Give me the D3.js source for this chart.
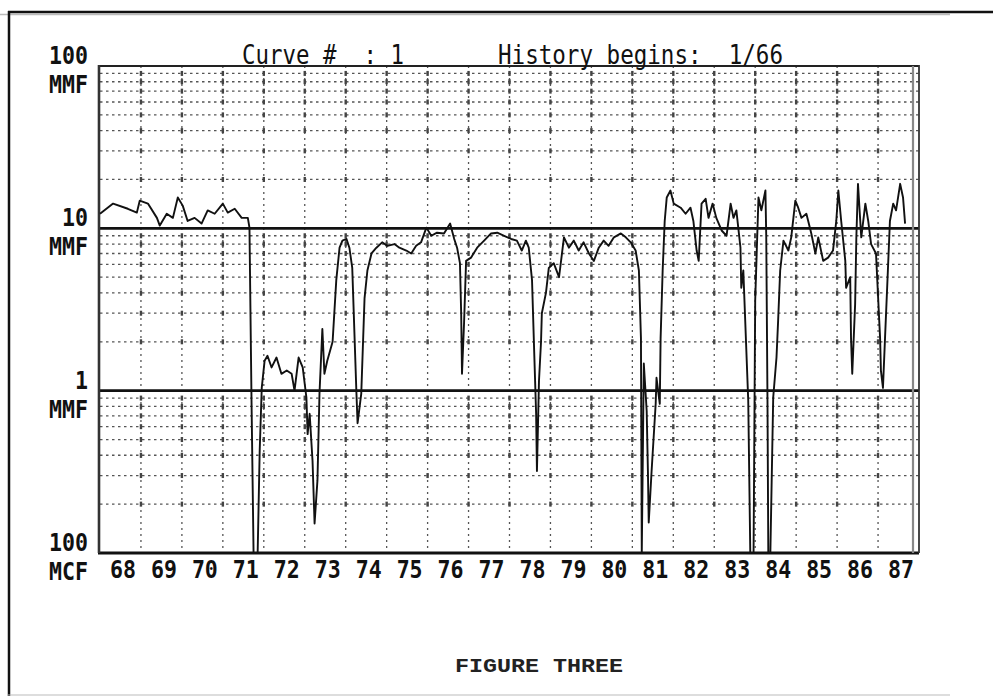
<!DOCTYPE html>
<html>
<head>
<meta charset="utf-8">
<script src="https://cdn.jsdelivr.net/npm/d3@7"></script>
<style>
  html, body { margin: 0; padding: 0; background: #fff; }
  svg { display: block; }
  text { white-space: pre; }
</style>
</head>
<body>
<div id="container"></div>
<script>
// tick labels and grid
var years = d3.range(68, 88);                 // 68 .. 87
var gridMult = [2, 3, 4, 5, 6, 7, 8, 9];
var decades = [0.1, 1, 10];
var heavyLines = [1, 10];
var yLabels = [
  { v: 100, num: "100", unit: "MMF" },
  { v: 10,  num: "10",  unit: "MMF" },
  { v: 1,   num: "1",   unit: "MMF" },
  { v: 0.1, num: "100", unit: "MCF" }
];

// production history, MMF (clipped at 100 MCF)
var curve = [
  [68.00,12.3],[68.32,14.2],[68.68,13.2],[68.90,12.5],[68.97,14.8],[69.17,14.2],
  [69.39,11.6],[69.46,10.4],[69.63,12.3],[69.78,11.6],[69.90,15.5],[70.02,13.8],
  [70.14,11.1],[70.31,11.6],[70.48,10.7],[70.63,12.9],[70.80,12.3],[71.00,14.2],
  [71.12,12.5],[71.29,13.2],[71.46,11.6],[71.61,11.6],[71.65,10.1],[71.70,0.87],
  [71.75,0.1],[71.85,0.1],[71.90,0.43],[71.95,1.04],[72.02,1.53],[72.09,1.64],
  [72.19,1.39],[72.31,1.60],[72.43,1.27],[72.56,1.33],[72.68,1.27],[72.75,1.0],
  [72.85,1.60],[72.95,1.39],[73.04,0.91],[73.07,0.54],[73.12,0.72],[73.19,0.37],
  [73.24,0.152],[73.31,0.28],[73.36,0.96],[73.43,2.4],[73.48,1.27],[73.55,1.53],
  [73.68,2.0],[73.77,4.8],[73.85,7.6],[73.92,8.4],[74.02,8.6],[74.09,7.6],
  [74.16,5.7],[74.26,1.0],[74.29,0.63],[74.38,0.96],[74.46,3.7],[74.53,5.5],
  [74.63,7.0],[74.75,7.6],[74.89,8.2],[75.02,7.8],[75.19,8.0],[75.31,7.6],
  [75.48,7.3],[75.60,7.0],[75.72,7.8],[75.84,8.2],[75.97,10.1],[76.09,9.0],
  [76.23,9.4],[76.40,9.3],[76.55,10.7],[76.65,8.6],[76.72,7.6],[76.79,6.1],
  [76.82,3.0],[76.84,1.27],[76.89,2.6],[76.94,6.3],[77.06,6.6],[77.21,7.6],
  [77.38,8.4],[77.55,9.3],[77.70,9.4],[77.87,9.0],[78.04,8.6],[78.18,8.4],
  [78.30,7.3],[78.40,8.4],[78.47,7.6],[78.55,4.8],[78.60,1.84],[78.65,0.72],
  [78.67,0.32],[78.72,1.15],[78.77,2.0],[78.79,3.0],[78.89,4.0],[78.96,5.7],
  [79.08,6.1],[79.21,5.0],[79.33,8.8],[79.45,7.6],[79.57,8.4],[79.69,7.3],
  [79.81,8.2],[79.94,7.0],[80.06,6.3],[80.18,7.6],[80.30,8.4],[80.42,7.8],
  [80.55,8.8],[80.72,9.3],[80.84,8.8],[80.96,8.2],[81.08,7.3],[81.16,5.5],
  [81.21,2.1],[81.23,0.1],[81.28,1.47],[81.35,0.75],[81.38,0.32],[81.40,0.154],
  [81.47,0.32],[81.57,0.83],[81.59,1.20],[81.67,0.83],[81.69,2.1],[81.74,5.5],
  [81.79,11.1],[81.84,15.5],[81.93,17.1],[82.01,14.2],[82.18,13.4],[82.30,12.3],
  [82.42,13.4],[82.49,11.1],[82.57,7.3],[82.62,6.3],[82.69,14.2],[82.79,15.2],
  [82.86,11.6],[82.96,14.2],[83.05,11.6],[83.18,9.7],[83.30,9.0],[83.40,14.2],
  [83.47,11.6],[83.54,12.9],[83.64,7.6],[83.66,4.3],[83.71,5.5],[83.83,0.87],
  [83.88,0.1],[83.96,0.1],[84.00,3.6],[84.08,15.5],[84.15,12.9],[84.25,17.1],
  [84.27,8.8],[84.30,0.87],[84.32,0.1],[84.37,0.1],[84.44,0.91],[84.52,1.60],
  [84.56,2.7],[84.61,5.5],[84.69,8.4],[84.81,7.3],[84.88,8.8],[84.98,14.8],
  [85.05,13.4],[85.13,11.6],[85.25,12.3],[85.37,9.3],[85.47,7.0],[85.54,8.8],
  [85.66,6.3],[85.78,6.6],[85.90,7.3],[85.98,11.1],[86.03,17.1],[86.10,11.1],
  [86.20,6.3],[86.22,4.3],[86.32,5.0],[86.34,2.1],[86.37,1.27],[86.44,3.4],
  [86.47,8.8],[86.51,18.8],[86.59,8.8],[86.69,14.2],[86.76,11.1],[86.83,8.0],
  [86.95,7.0],[87.05,2.1],[87.07,1.33],[87.12,1.04],[87.17,2.1],[87.24,5.5],
  [87.29,11.1],[87.37,14.2],[87.44,12.9],[87.54,18.8],[87.61,15.5],[87.66,10.7]
];

var W = 993, H = 696;
var svg = d3.select('#container').append('svg').attr('width', W).attr('height', H);

var x = d3.scaleLinear().domain([68, 88]).range([100, 919]);
var y = d3.scaleLog().domain([0.1, 100]).range([553, 66]);

var gridVals = [];
decades.forEach(function(d){ gridMult.forEach(function(m){ gridVals.push(d * m); }); });

// outer page frame
svg.append('line').attr('x1', 0).attr('x2', 950).attr('y1', 14.5).attr('y2', 14.5)
  .attr('stroke', '#bbb').attr('stroke-width', 1.5);
svg.append('line').attr('x1', 8).attr('x2', W).attr('y1', 12).attr('y2', 12)
  .attr('stroke', '#111').attr('stroke-width', 2.5);
svg.append('line').attr('x1', 9).attr('x2', 9).attr('y1', 11).attr('y2', H)
  .attr('stroke', '#111').attr('stroke-width', 2.5);
svg.append('line').attr('x1', 8).attr('x2', 950).attr('y1', 695).attr('y2', 695)
  .attr('stroke', '#bbb').attr('stroke-width', 1.2);

var g = svg.append('g');

// dotted grid
g.selectAll('.hgrid').data(gridVals).enter().append('line')
  .attr('class', 'hgrid')
  .attr('x1', x(68)).attr('x2', x(88))
  .attr('y1', function(d){ return y(d); }).attr('y2', function(d){ return y(d); })
  .attr('stroke', '#555').attr('stroke-width', 1.3).attr('stroke-dasharray', '2.5,3.5');

g.selectAll('.vgrid').data(years.slice(1)).enter().append('line')
  .attr('class', 'vgrid')
  .attr('x1', function(d){ return x(d); }).attr('x2', function(d){ return x(d); })
  .attr('y1', y(100)).attr('y2', y(0.1))
  .attr('stroke', '#555').attr('stroke-width', 1.3).attr('stroke-dasharray', '2,4');

// little marks where grid lines cross
var cross = [];
years.slice(1).forEach(function(yr){ gridVals.forEach(function(v){ cross.push([yr, v]); }); });
g.selectAll('.mark').data(cross).enter().append('rect')
  .attr('x', function(d){ return x(d[0]) - 1.2; })
  .attr('y', function(d){ return y(d[1]) - 2.5; })
  .attr('width', 2.4).attr('height', 5)
  .attr('fill', '#444');

// heavy decade lines
g.selectAll('.heavy').data(heavyLines).enter().append('line')
  .attr('x1', x(68) - 2).attr('x2', x(88))
  .attr('y1', function(d){ return y(d); }).attr('y2', function(d){ return y(d); })
  .attr('stroke', '#111').attr('stroke-width', 2.6);

// plot frame
g.append('line').attr('x1', x(68)).attr('x2', x(88)).attr('y1', y(100)).attr('y2', y(100))
  .attr('stroke', '#222').attr('stroke-width', 2);
g.append('line').attr('x1', x(68) - 2).attr('x2', x(88)).attr('y1', y(0.1)).attr('y2', y(0.1))
  .attr('stroke', '#111').attr('stroke-width', 3);
g.append('line').attr('x1', x(68) - 1).attr('x2', x(68) - 1).attr('y1', y(100) - 1).attr('y2', y(0.1))
  .attr('stroke', '#333').attr('stroke-width', 2.6);
g.append('line').attr('x1', x(88) - 6).attr('x2', x(88) - 6).attr('y1', y(100)).attr('y2', y(0.1))
  .attr('stroke', '#888').attr('stroke-width', 2.2);
g.append('line').attr('x1', x(88)).attr('x2', x(88)).attr('y1', y(100) - 1).attr('y2', y(0.1))
  .attr('stroke', '#333').attr('stroke-width', 1.8);

// the curve
var line = d3.line()
  .x(function(d){ return x(d[0]); })
  .y(function(d){ return y(Math.max(0.1, d[1])); });
g.append('path').datum(curve)
  .attr('d', line)
  .attr('fill', 'none')
  .attr('stroke', '#111')
  .attr('stroke-width', 1.9)
  .attr('stroke-linejoin', 'round');

// year axis
var xAxis = d3.axisBottom(x)
  .tickValues(years.map(function(d){ return d + 0.5; }))
  .tickFormat(function(d){ return String(Math.floor(d)); })
  .tickSize(0);
var ax = svg.append('g').attr('transform', 'translate(2,' + y(0.1) + ')').call(xAxis);
ax.select('.domain').remove();
ax.selectAll('text')
  .attr('y', 25).attr('dy', null)
  .attr('font-family', 'DejaVu Sans Mono, monospace')
  .attr('font-weight', 'bold')
  .attr('font-size', 25)
  .attr('fill', '#111')
  .attr('textLength', 26).attr('lengthAdjust', 'spacingAndGlyphs');

// left labels: value over unit
var yl = svg.append('g').selectAll('g').data(yLabels).enter().append('g')
  .attr('transform', function(d){ return 'translate(88,' + y(d.v) + ')'; })
  .attr('font-family', 'DejaVu Sans Mono, monospace').attr('font-weight', 'bold')
  .attr('font-size', 24).attr('fill', '#111');
yl.append('text')
  .attr('text-anchor', 'end').attr('y', -2)
  .attr('textLength', function(d){ return d.num.length * 13; })
  .attr('lengthAdjust', 'spacingAndGlyphs')
  .text(function(d){ return d.num; });
yl.append('text')
  .attr('text-anchor', 'end').attr('y', 27)
  .attr('textLength', 39).attr('lengthAdjust', 'spacingAndGlyphs')
  .text(function(d){ return d.unit; });

// title
svg.append('text').attr('x', 242).attr('y', 64)
  .attr('font-family', 'DejaVu Sans Mono, monospace').attr('font-size', 26).attr('fill', '#111')
  .attr('textLength', 162).attr('lengthAdjust', 'spacingAndGlyphs')
  .text('Curve #  : 1');
svg.append('text').attr('x', 498).attr('y', 64)
  .attr('font-family', 'DejaVu Sans Mono, monospace').attr('font-size', 26).attr('fill', '#111')
  .attr('textLength', 285).attr('lengthAdjust', 'spacingAndGlyphs')
  .text('History begins:  1/66');

svg.append('text').attr('x', 455).attr('y', 672)
  .attr('font-family', 'Liberation Mono, monospace').attr('font-weight', 'bold')
  .attr('font-size', 21).attr('fill', '#222')
  .attr('textLength', 168).attr('lengthAdjust', 'spacingAndGlyphs')
  .text('FIGURE THREE');
</script>
</body>
</html>
